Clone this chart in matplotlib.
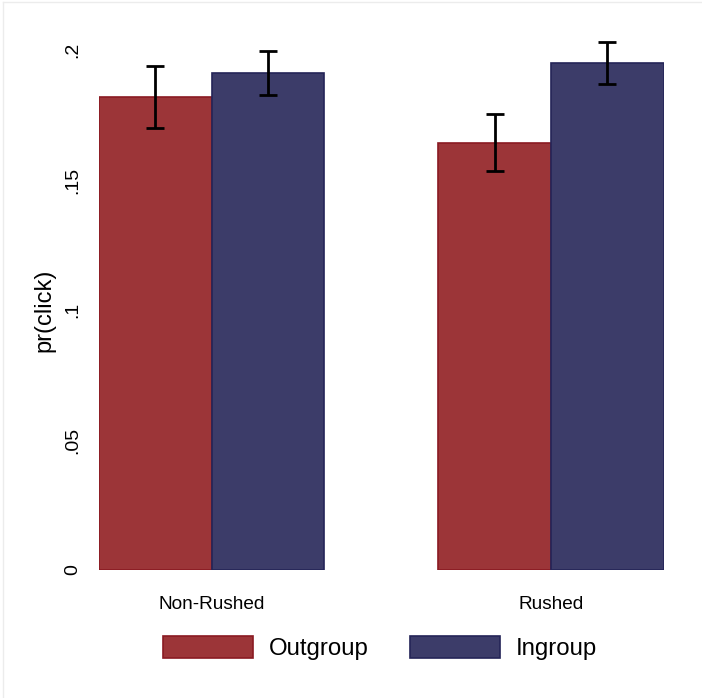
import matplotlib
matplotlib.use("Agg")
import matplotlib.pyplot as plt
from matplotlib.patches import Patch
from matplotlib.lines import Line2D
import numpy as np

plt.rcParams['font.family'] = ['Liberation Sans', 'DejaVu Sans']

# Click probability by time condition and partisan group, with 95% CIs
groups = ["Non-Rushed", "Rushed"]
series = ["Outgroup", "Ingroup"]
outgroup_mean = [0.182, 0.1643]
outgroup_lo = [0.170, 0.1533]
outgroup_hi = [0.194, 0.1753]
ingroup_mean = [0.191, 0.195]
ingroup_lo = [0.1828, 0.1869]
ingroup_hi = [0.1998, 0.2030]
yticks = [0, 0.05, 0.1, 0.15, 0.2]
yticklabels = ["0", ".05", ".1", ".15", ".2"]

red_fill, red_edge = "#9c3538", "#8a1a22"
blue_fill, blue_edge = "#3c3c69", "#242458"

W, H = 702, 698
fig = plt.figure(figsize=(W / 100, H / 100), dpi=100)
ax = fig.add_axes([99 / W, 128 / H, 564.5 / W, 540 / H])

x = np.arange(len(groups))
bw = 0.332

def draw(offset, mean, lo, hi, fc, ec):
    mean = np.array(mean)
    err = np.vstack([mean - np.array(lo), np.array(hi) - mean])
    ax.bar(x + offset, mean, width=bw, color=fc, edgecolor=ec, linewidth=1.2, zorder=2)
    ax.errorbar(x + offset, mean, yerr=err, fmt="none", ecolor="black",
                elinewidth=2.0, capsize=6.2, capthick=2.0, zorder=3)

draw(-bw / 2, outgroup_mean, outgroup_lo, outgroup_hi, red_fill, red_edge)
draw(bw / 2, ingroup_mean, ingroup_lo, ingroup_hi, blue_fill, blue_edge)

ax.set_xlim(-bw, 1 + bw)
ax.set_ylim(0, 540 / 2600)
ax.set_yticks(yticks)
ax.set_yticklabels(yticklabels, rotation=90, va="center", fontsize=14)
ax.set_xticks(x)
ax.set_xticklabels(groups, fontsize=13.7)
ax.tick_params(axis="y", length=0, pad=13)
ax.tick_params(axis="x", length=0, pad=19)
for s in ax.spines.values():
    s.set_visible(False)
ax.set_ylabel("pr(click)", fontsize=17)
ax.yaxis.set_label_coords((55 - 99) / 564.5, (570 - 310) / 540)

handles = [Patch(facecolor=red_fill, edgecolor=red_edge, linewidth=1.2),
           Patch(facecolor=blue_fill, edgecolor=blue_edge, linewidth=1.2)]
fig.legend(handles, series, loc="center", bbox_to_anchor=(380 / W, 1 - 648 / H),
           ncol=2, frameon=False, fontsize=17.3, handlelength=3.75,
           handleheight=1.0, handletextpad=0.65, columnspacing=1.75)

# faint outer frame lines
fig.add_artist(Line2D([3 / W, 3 / W], [0, 1 - 2 / H], color="#ececec", lw=1))
fig.add_artist(Line2D([3 / W, 1], [1 - 2 / H, 1 - 2 / H], color="#ececec", lw=1))

fig.savefig("out.png", dpi=100, facecolor="white")
